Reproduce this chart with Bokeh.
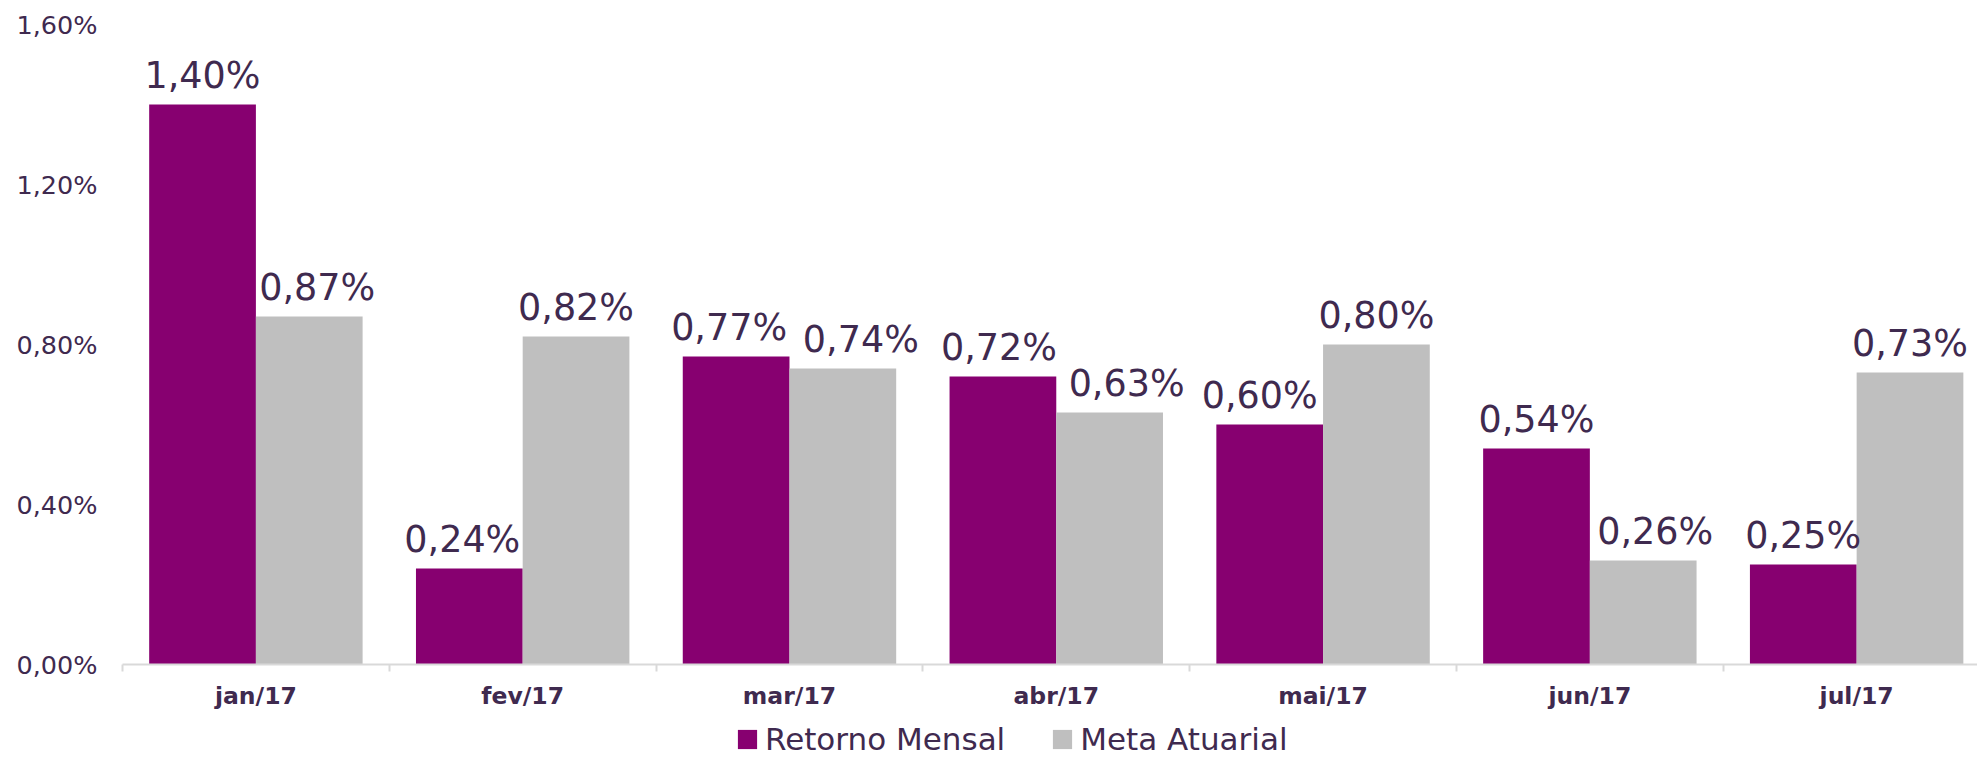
import numpy as np
from bokeh.plotting import figure
from bokeh.layouts import column
from bokeh.models import (ColumnDataSource, Range1d, FixedTicker, LabelSet,
                          Legend, LegendItem)
from bokeh.core.properties import value
from bokeh.embed import file_html
from bokeh.resources import INLINE

# ---------------- data ----------------
months = ["jan/17", "fev/17", "mar/17", "abr/17", "mai/17", "jun/17", "jul/17"]
retorno_mensal = [1.40, 0.24, 0.77, 0.72, 0.60, 0.54, 0.25]
meta_atuarial = [0.87, 0.82, 0.74, 0.63, 0.80, 0.26, 0.73]
y_ticks = [0.0, 0.4, 0.8, 1.2, 1.6]
y_tick_labels = ["0,00%", "0,40%", "0,80%", "1,20%", "1,60%"]
series_names = ["Retorno Mensal", "Meta Atuarial"]

# ---------------- style ----------------
PURPLE = "#870070"
GRAY = "#BFBFBF"
TEXT = "#3F2A4F"
AXIS = "#D9D9D9"
FONT = "DejaVu Sans"
# small horizontal label nudges (px) to avoid overlapping value labels
nudge_r = [0, -7, -7, -4, -10, 0, 0]
nudge_m = [8, 0, 18, 17, 0, 12, 0]


def fmt(v):
    return f"{v:.2f}".replace(".", ",") + "%"


idx = np.arange(len(months))
src_r = ColumnDataSource(dict(x=idx + 0.3, top=retorno_mensal,
                              label=[fmt(v) for v in retorno_mensal], nx=nudge_r))
src_m = ColumnDataSource(dict(x=idx + 0.7, top=meta_atuarial,
                              label=[fmt(v) for v in meta_atuarial], nx=nudge_m))

p = figure(width=1977, height=715,
           x_range=Range1d(0, 6.953), y_range=Range1d(0, 1.6),
           output_backend="svg", toolbar_location=None,
           min_border_left=122, min_border_right=0,
           min_border_top=24, min_border_bottom=51)
p.outline_line_color = None
p.xgrid.visible = False
p.ygrid.visible = False
p.background_fill_color = "white"
p.border_fill_color = "white"

r1 = p.vbar(x="x", top="top", bottom=0, width=0.4, source=src_r,
            fill_color=PURPLE, line_color=None)
r2 = p.vbar(x="x", top="top", bottom=0, width=0.4, source=src_m,
            fill_color=GRAY, line_color=None)

for src in (src_r, src_m):
    p.add_layout(LabelSet(x="x", y="top", text="label", source=src,
                          x_offset="nx", y_offset=17,
                          text_align="center", text_baseline="alphabetic",
                          text_font=value(FONT), text_font_size="36.5px",
                          text_color=TEXT))

# x axis: labels at category centres, tick marks at category boundaries
xa = p.xaxis[0]
xa.ticker = FixedTicker(ticks=list(idx + 0.5), minor_ticks=list(range(len(months) + 1)))
xa.major_label_overrides = {float(i + 0.5): m for i, m in enumerate(months)}
xa.major_tick_line_color = None
xa.major_tick_out = 0
xa.major_tick_in = 0
xa.minor_tick_line_color = AXIS
xa.minor_tick_line_width = 2
xa.minor_tick_out = 7
xa.minor_tick_in = 0
xa.axis_line_color = AXIS
xa.axis_line_width = 2
xa.major_label_standoff = 10
xa.major_label_text_font = FONT
xa.major_label_text_font_size = "23.5px"
xa.major_label_text_font_style = "bold"
xa.major_label_text_color = TEXT

ya = p.yaxis[0]
ya.ticker = FixedTicker(ticks=y_ticks)
ya.major_label_overrides = {float(t): l for t, l in zip(y_ticks, y_tick_labels)}
ya.axis_line_color = None
ya.major_tick_line_color = None
ya.minor_tick_line_color = None
ya.major_tick_out = 0
ya.major_label_standoff = 25
ya.major_label_text_font = FONT
ya.major_label_text_font_size = "25.5px"
ya.major_label_text_color = TEXT

# ---------------- legend strip below the chart ----------------
pl = figure(width=1977, height=42, x_range=Range1d(0, 1), y_range=Range1d(0, 1),
            output_backend="svg", toolbar_location=None,
            min_border=0, min_border_left=122, min_border_right=0,
            min_border_top=0, min_border_bottom=0)
pl.axis.visible = False
pl.grid.visible = False
pl.outline_line_color = None
pl.background_fill_color = "white"
pl.border_fill_color = "white"
# zero-height bars: only used to give the legend its swatches
lr1 = pl.vbar(x=[0], top=[0], bottom=0, width=0.4, fill_color=PURPLE, line_color=None)
lr2 = pl.vbar(x=[0], top=[0], bottom=0, width=0.4, fill_color=GRAY, line_color=None)

legend = Legend(items=[LegendItem(label=series_names[0], renderers=[lr1]),
                       LegendItem(label=series_names[1], renderers=[lr2])],
                orientation="horizontal", location=(613, 0),
                glyph_width=24, glyph_height=24, label_standoff=6, spacing=45,
                padding=0, margin=0, border_line_color=None,
                background_fill_alpha=0,
                label_text_font=FONT, label_text_font_size="31px",
                label_text_color=TEXT)
pl.add_layout(legend, "center")

layout = column(p, pl, spacing=0)
open("out.html", "w").write(file_html(layout, INLINE))
